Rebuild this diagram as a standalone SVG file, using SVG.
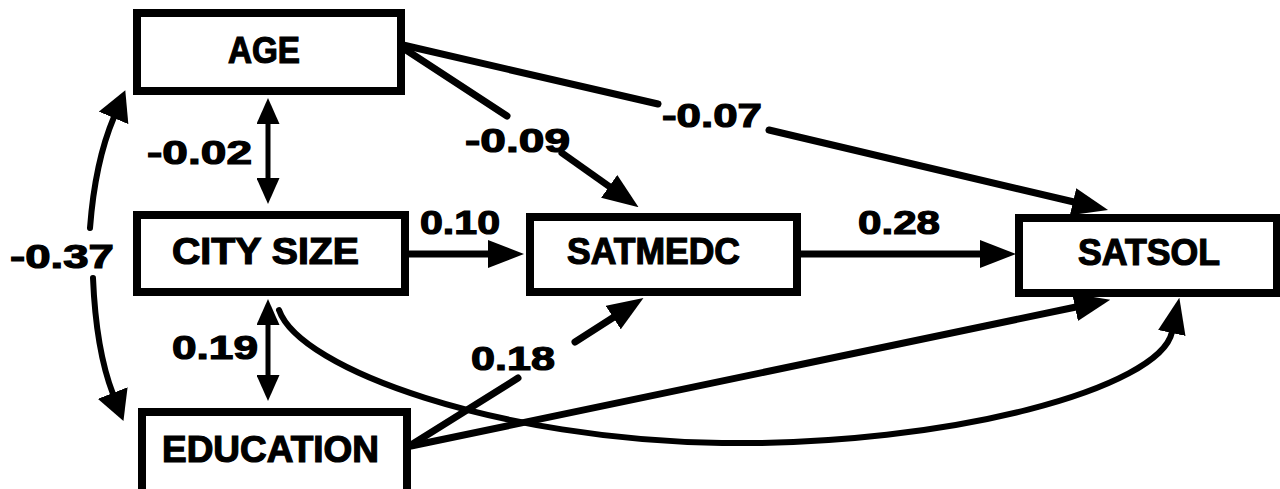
<svg xmlns="http://www.w3.org/2000/svg" width="1280" height="489" viewBox="0 0 1280 489">
<style>
.box{fill:#fff;stroke:#000;stroke-width:8;stroke-linejoin:miter}
.lbl{font-family:"Liberation Sans",Arial,sans-serif;font-weight:bold;font-size:36px;fill:#000;stroke:#000;stroke-width:1.2;text-anchor:start}
.num{font-family:"Liberation Sans",Arial,sans-serif;font-weight:bold;font-size:34px;fill:#000;stroke:#000;stroke-width:1.2}
.ln{fill:none;stroke:#000;stroke-width:7;stroke-linecap:round}
.thin{fill:none;stroke:#000;stroke-width:5}
.crv{fill:none;stroke:#000;stroke-width:6;stroke-linecap:round}
</style>
<defs>
<marker id="big" markerUnits="userSpaceOnUse" markerWidth="36" markerHeight="28" viewBox="0 0 36 28" refX="1" refY="14" orient="auto">
<path d="M0,0 L36,14 L0,28 Z" fill="#000"/>
</marker>
<marker id="wide" markerUnits="userSpaceOnUse" markerWidth="30" markerHeight="32" viewBox="0 0 30 32" refX="1" refY="16" orient="auto">
<path d="M0,0 L30,16 L0,32 Z" fill="#000"/>
</marker>
<marker id="small" markerUnits="userSpaceOnUse" markerWidth="26" markerHeight="23" viewBox="0 0 26 23" refX="1" refY="11.5" orient="auto-start-reverse">
<path d="M0,0 L26,11.5 L0,23 Z" fill="#000"/>
</marker>
</defs>
<rect width="1280" height="489" fill="#fff"/>
<g id="connectors">
<path class="thin" d="M268 123 L268 179" marker-start="url(#small)" marker-end="url(#small)"/>
<path class="thin" d="M268 324 L268 376" marker-start="url(#small)" marker-end="url(#small)"/>
<path class="crv" d="M90 228 Q95 162 114 117" marker-end="url(#wide)"/>
<path class="crv" d="M93 278 Q96 350 113 394" marker-end="url(#wide)"/>
<path class="ln" d="M405 254 H489" marker-end="url(#big)"/>
<path class="ln" d="M797 254 H981" marker-end="url(#big)"/>
<path class="ln" d="M403 48 L507 116"/>
<path class="ln" d="M562 153 L610 187" marker-end="url(#big)"/>
<path class="ln" d="M403 45 L658 104"/>
<path class="ln" d="M769 130 L1074 202" marker-end="url(#big)"/>
<path class="ln" d="M411 445 L518 378"/>
<path class="ln" d="M575 342 L614 317" marker-end="url(#big)"/>
<path class="ln" d="M411 446 L1076 307" marker-end="url(#big)"/>
<path class="crv" d="M279 310 C300 370 500 440 722 443 C950 446 1160 388 1172 332" marker-end="url(#big)"/>
</g>
<g id="age">
<rect class="box" x="137" y="13" width="264" height="78"/>
<text class="lbl" x="228" y="63" font-size="38" textLength="72" lengthAdjust="spacingAndGlyphs">AGE</text>
</g>
<g id="citysize">
<rect class="box" x="137" y="215" width="268" height="77"/>
<text class="lbl" x="172" y="264" textLength="187" lengthAdjust="spacingAndGlyphs">CITY SIZE</text>
</g>
<g id="education">
<rect class="box" x="142" y="412" width="265" height="90"/>
<text class="lbl" x="162" y="462" textLength="217" lengthAdjust="spacingAndGlyphs">EDUCATION</text>
</g>
<g id="satmedc">
<rect class="box" x="530" y="217" width="267" height="75"/>
<text class="lbl" x="567" y="264" textLength="173" lengthAdjust="spacingAndGlyphs">SATMEDC</text>
</g>
<g id="satsol">
<rect class="box" x="1019" y="218" width="258" height="75"/>
<text class="lbl" x="1078" y="265" textLength="142" lengthAdjust="spacingAndGlyphs">SATSOL</text>
</g>
<g id="labels">
<text class="num" x="147" y="164" textLength="105" lengthAdjust="spacingAndGlyphs">-0.02</text>
<text class="num" x="172" y="359" textLength="86" lengthAdjust="spacingAndGlyphs">0.19</text>
<text class="num" x="10" y="268" textLength="104" lengthAdjust="spacingAndGlyphs">-0.37</text>
<text class="num" x="465" y="152" textLength="105" lengthAdjust="spacingAndGlyphs">-0.09</text>
<text class="num" x="662" y="127" textLength="100" lengthAdjust="spacingAndGlyphs">-0.07</text>
<text class="num" x="420" y="234" textLength="80" lengthAdjust="spacingAndGlyphs">0.10</text>
<text class="num" x="858" y="234" textLength="82" lengthAdjust="spacingAndGlyphs">0.28</text>
<text class="num" x="471" y="370" textLength="84" lengthAdjust="spacingAndGlyphs">0.18</text>
</g>
</svg>
